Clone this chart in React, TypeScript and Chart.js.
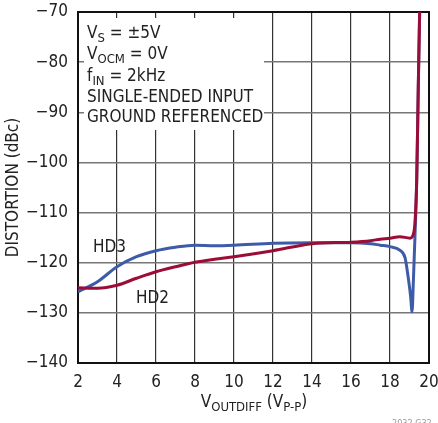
import React, { useEffect, useRef } from "react";
import { Chart, registerables } from "chart.js";

Chart.register(...registerables);

const xTicks = [2, 4, 6, 8, 10, 12, 14, 16, 18, 20];
const yTicks = [-140, -130, -120, -110, -100, -90, -80, -70];

const hd2X = [2, 3, 4, 5, 6, 7, 8, 9, 10, 12, 14, 16, 17, 17.5, 18, 18.5, 19.03, 19.18, 19.28, 19.37, 19.45, 19.52];
const hd2Y = [-125.0, -125.1, -124.5, -123.1, -121.8, -120.8, -119.9, -119.3, -118.8, -117.6, -116.2, -115.9, -115.6, -115.3, -115.1, -114.8, -115.1, -114.5, -112, -103.5, -85, -70];

const hd3X = [2, 3, 4, 5, 6, 7, 8, 9, 10, 12, 14, 16, 17, 17.5, 18, 18.5, 18.77, 18.9, 19.06, 19.13, 19.2, 19.28, 19.37, 19.45, 19.52];
const hd3Y = [-125.8, -123.8, -120.8, -118.8, -117.6, -116.9, -116.5, -116.6, -116.5, -116.1, -116.0, -116.0, -116.2, -116.5, -116.8, -117.5, -119, -122, -126.8, -129.8, -123.5, -114.8, -103.5, -85, -70];

const FONT = "'Liberation Sans Narrow', 'DejaVu Sans Condensed', sans-serif";
const RED = "#9b0d36";
const BLUE = "#3d5ba8";

type Seg = { t: string; sub?: boolean };

function drawRich(ctx: CanvasRenderingContext2D, segs: Seg[], x: number, y: number, size: number, subSize: number, align: "left" | "center" = "left") {
  ctx.textBaseline = "alphabetic";
  ctx.textAlign = "left";
  let total = 0;
  for (const s of segs) {
    ctx.font = `${s.sub ? subSize : size}px ${FONT}`;
    total += ctx.measureText(s.t).width;
  }
  let cx = align === "center" ? x - total / 2 : x;
  for (const s of segs) {
    ctx.font = `${s.sub ? subSize : size}px ${FONT}`;
    ctx.fillText(s.t, cx, s.sub ? y + 4 : y);
    cx += ctx.measureText(s.t).width;
  }
}

const decor = {
  id: "decor",
  beforeDatasetsDraw(chart: any) {
    const { ctx, chartArea: a } = chart;
    ctx.save();
    // white box behind annotation text
    ctx.fillStyle = "#fff";
    ctx.fillRect(84, 18, 180, 112);
    // frame
    ctx.strokeStyle = "#111";
    ctx.lineWidth = 2;
    ctx.strokeRect(a.left, a.top, a.right - a.left, a.bottom - a.top);
    ctx.fillStyle = "#222";
    const s = 17, ss = 13;
    drawRich(ctx, [{ t: "V" }, { t: "S", sub: true }, { t: " = ±5V" }], 87, 38, s, ss);
    drawRich(ctx, [{ t: "V" }, { t: "OCM", sub: true }, { t: " = 0V" }], 87, 59, s, ss);
    drawRich(ctx, [{ t: "f" }, { t: "IN", sub: true }, { t: " = 2kHz" }], 87, 80.5, s, ss);
    drawRich(ctx, [{ t: "SINGLE-ENDED INPUT" }], 87, 101.5, s, ss);
    drawRich(ctx, [{ t: "GROUND REFERENCED" }], 87, 122, s, ss);
    // series labels
    drawRich(ctx, [{ t: "HD3" }], 93, 252, s, ss);
    drawRich(ctx, [{ t: "HD2" }], 136, 303, s, ss);
    // x title
    drawRich(ctx, [{ t: "V" }, { t: "OUTDIFF", sub: true }, { t: " (V" }, { t: "P-P", sub: true }, { t: ")" }], 254, 406.5, s, ss, "center");
    // y title
    ctx.save();
    ctx.translate(18, (a.top + a.bottom) / 2);
    ctx.rotate(-Math.PI / 2);
    drawRich(ctx, [{ t: "DISTORTION (dBc)" }], 0, 0, s, ss, "center");
    ctx.restore();
    // figure id
    ctx.fillStyle = "#999";
    ctx.font = `9px ${FONT}`;
    ctx.textBaseline = "top";
    ctx.fillText("2032 G32", 392, 419);
    ctx.restore();
  },
};

export default function App() {
  const ref = useRef<HTMLCanvasElement>(null);
  useEffect(() => {
    document.body.style.margin = "0";
    const chart = new Chart(ref.current!, {
      type: "line",
      data: {
        datasets: [
          {
            label: "HD2",
            data: hd2X.map((x, i) => ({ x, y: hd2Y[i] })),
            borderColor: RED,
            borderWidth: 3,
            pointRadius: 0,
            cubicInterpolationMode: "monotone",
            fill: false,
          },
          {
            label: "HD3",
            data: hd3X.map((x, i) => ({ x, y: hd3Y[i] })),
            borderColor: BLUE,
            borderWidth: 3,
            pointRadius: 0,
            cubicInterpolationMode: "monotone",
            fill: false,
          },
        ],
      },
      options: {
        animation: false,
        responsive: false,
        layout: { padding: { top: 12, right: 9, left: 0, bottom: 0 } },
        plugins: { legend: { display: false }, tooltip: { enabled: false } },
        scales: {
          x: {
            type: "linear",
            min: 2,
            max: 20,
            afterBuildTicks: (s: any) => { s.ticks = xTicks.map((v) => ({ value: v })); },
            afterFit: (s: any) => { s.height = 60; s.paddingLeft = 0; s.paddingRight = 0; },
            grid: { color: "#333", lineWidth: 1.2, drawTicks: false },
            border: { display: false },
            ticks: { color: "#222", padding: 9, font: { family: FONT, size: 17 }, maxRotation: 0 },
          },
          y: {
            type: "linear",
            min: -140,
            max: -70,
            afterBuildTicks: (s: any) => { s.ticks = yTicks.map((v) => ({ value: v })); },
            afterFit: (s: any) => { s.width = 78; s.paddingTop = 0; s.paddingBottom = 0; },
            grid: { color: "#777", lineWidth: 1.5, drawTicks: false },
            border: { display: false },
            ticks: {
              color: "#222",
              padding: 10,
              font: { family: FONT, size: 17 },
              callback: (v: any) => String(v).replace("-", "\u2212"),
            },
          },
        },
      },
      plugins: [decor],
    } as any);
    return () => chart.destroy();
  }, []);
  return (
    <div style={{ width: 438, height: 423 }}>
      <canvas ref={ref} width={438} height={423} style={{ display: "block" }} />
    </div>
  );
}
